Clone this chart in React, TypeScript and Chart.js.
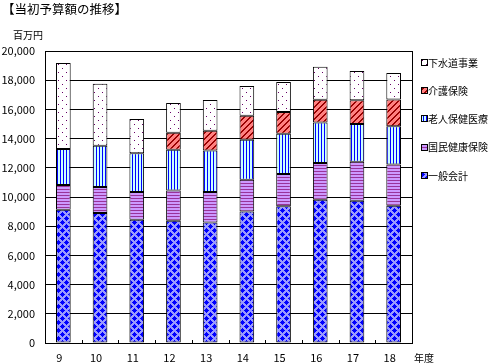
import React, { useEffect, useRef } from "react";
import { Chart, registerables } from "chart.js";

Chart.register(...registerables);

const years = ["9", "10", "11", "12", "13", "14", "15", "16", "17", "18"];
const general = [9130, 8900, 8450, 8380, 8260, 9010, 9360, 9820, 9750, 9400];
const national = [1690, 1780, 1890, 2070, 2080, 2170, 2220, 2510, 2670, 2830];
const elderly = [2470, 2830, 2650, 2790, 2850, 2740, 2760, 2780, 2580, 2610];
const care = [null, null, null, 1160, 1350, 1650, 1480, 1550, 1620, 1840];
const sewer = [5890, 4250, 2350, 2040, 2100, 2030, 2060, 2260, 2010, 1810];
const seriesNames = ["一般会計", "国民健康保険", "老人保健医療", "介護保険", "下水道事業"];
const titleText = "【当初予算額の推移】";
const unitText = "百万円";
const xUnitText = "年度";

const FONT = '"Noto Sans CJK JP", "Noto Sans", sans-serif';

function makeTile(w: number, h: number, bg: string, fg: string, on: (x: number, y: number) => boolean) {
  const c = document.createElement("canvas");
  c.width = w;
  c.height = h;
  const g = c.getContext("2d")!;
  g.fillStyle = bg;
  g.fillRect(0, 0, w, h);
  g.fillStyle = fg;
  for (let y = 0; y < h; y++) for (let x = 0; x < w; x++) if (on(x, y)) g.fillRect(x, y, 1, 1);
  return g.createPattern(c, "repeat")!;
}

function wrapDist(a: number, b: number, n: number) {
  const d = Math.abs(a - b) % n;
  return Math.min(d, n - d);
}

export default function App() {
  const ref = useRef<HTMLCanvasElement>(null);
  useEffect(() => {
    const canvas = ref.current!;
    const pGeneral = makeTile(8, 8, "#9999FF", "#0000FF", (x, y) =>
      wrapDist(x, 2, 8) + wrapDist(y, 2, 8) <= 2 || wrapDist(x, 6, 8) + wrapDist(y, 6, 8) <= 2
    );
    const pNational = makeTile(4, 3, "#CC99FF", "#993399", (_x, y) => y === 0);
    const pElderly = makeTile(3, 4, "#CCFFFF", "#0000FF", (x) => x === 0);
    const pCare = makeTile(6, 6, "#FF8080", "#990000", (x, y) => (x + y) % 6 < 2);
    const pSewer = makeTile(8, 8, "#FFFFFF", "#660066", (x, y) => (x === 2 && y === 0) || (x === 6 && y === 4));
    const fills = [pGeneral, pNational, pElderly, pCare, pSewer];
    const values = [general, national, elderly, care, sewer];

    const overlay = {
      id: "overlay",
      afterDraw(chart: any) {
        const ctx = chart.ctx;
        const a = chart.chartArea;
        ctx.save();
        ctx.strokeStyle = "#000";
        ctx.lineWidth = 1;
        ctx.strokeRect(Math.round(a.left) + 0.5, Math.round(a.top) + 0.5, Math.round(a.right - a.left), Math.round(a.bottom - a.top));
        const xs = chart.scales.x;
        ctx.beginPath();
        for (let i = 1; i < years.length; i++) {
          const px = Math.round((xs.getPixelForValue(i - 1) + xs.getPixelForValue(i)) / 2) + 0.5;
          ctx.moveTo(px, a.bottom);
          ctx.lineTo(px, a.bottom - 3);
        }
        ctx.stroke();
        ctx.fillStyle = "#000";
        ctx.textBaseline = "middle";
        ctx.textAlign = "left";
        ctx.font = `12.5px ${FONT}`;
        ctx.fillText(titleText, 2, 9);
        ctx.font = `10px ${FONT}`;
        ctx.fillText(unitText, 13, 35);
        ctx.fillText(xUnitText, 414, 358);
        // legend (top = last series)
        for (let k = 0; k < seriesNames.length; k++) {
          const idx = seriesNames.length - 1 - k;
          const cy = 63 + k * 28.2;
          const by = Math.round(cy - 3);
          ctx.fillStyle = fills[idx];
          ctx.fillRect(422, by, 5, 5);
          ctx.strokeStyle = "#000";
          ctx.strokeRect(421.5, by - 0.5, 6, 6);
          ctx.fillStyle = "#000";
          ctx.font = `10px ${FONT}`;
          ctx.fillText(seriesNames[idx], 428, cy);
        }
        ctx.restore();
      },
    };

    const chart = new Chart(canvas, {
      type: "bar",
      data: {
        labels: years,
        datasets: values.map((v, i) => ({
          label: seriesNames[i],
          data: v as any,
          backgroundColor: fills[i] as any,
          borderColor: "#000",
          borderWidth: 1,
          borderSkipped: false,
          categoryPercentage: 1,
          barPercentage: 0.4,
        })),
      },
      options: {
        responsive: false,
        animation: false,
        devicePixelRatio: 1,
        layout: { padding: { top: 51, right: 76, left: 0, bottom: 0 } },
        plugins: { legend: { display: false }, title: { display: false }, tooltip: { enabled: false } },
        scales: {
          x: {
            stacked: true,
            grid: { display: false, drawTicks: false },
            border: { display: true, color: "#000" },
            ticks: { color: "#000", font: { family: FONT, size: 11 }, padding: 8, labelOffset: -4, maxRotation: 0 },
            afterFit: (s: any) => { s.height = 20; },
          },
          y: {
            stacked: true,
            min: 0,
            max: 20000,
            grid: { color: "#000", lineWidth: 1, drawTicks: false },
            border: { display: true, color: "#000" },
            ticks: {
              stepSize: 2000,
              color: "#000",
              padding: 10,
              font: { family: FONT, size: 11 },
              callback: (v: any) => Number(v).toLocaleString("en-US"),
            },
            afterFit: (s: any) => { s.width = 45; },
          },
        },
      },
      plugins: [overlay],
    });
    return () => chart.destroy();
  }, []);
  return (
    <div style={{ position: "absolute", left: 0, top: 0, width: 488, height: 363 }}>
      <canvas ref={ref} width={488} height={363} style={{ display: "block" }} />
    </div>
  );
}
